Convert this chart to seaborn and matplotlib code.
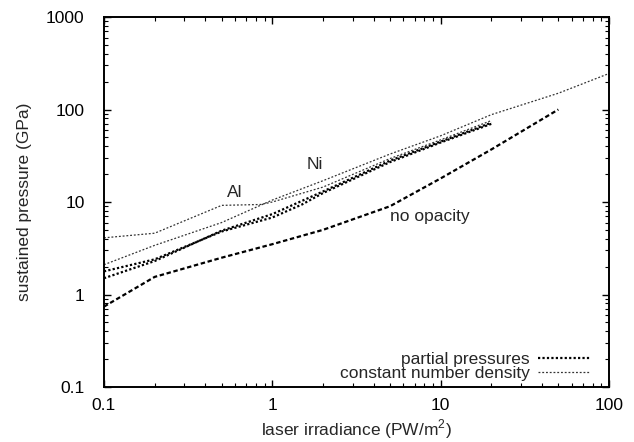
import matplotlib
matplotlib.use("Agg")
import matplotlib.pyplot as plt
from matplotlib.lines import Line2D
from matplotlib.ticker import LogLocator, FixedLocator, FixedFormatter, NullFormatter
import numpy as np
import pandas as pd
import seaborn as sns

# laser irradiance (PW/m^2) and sustained pressure (GPa)
al_pp_x = [0.1, 0.2, 0.5, 1.0, 2.0, 5.0, 10.0, 20.0]
al_pp_y = [1.5, 2.3, 4.9, 7.4, 13.0, 28.0, 45.0, 72.0]

ni_pp_x = [0.1, 0.2, 0.5, 1.0, 1.5, 2.0, 5.0, 10.0, 20.0]
ni_pp_y = [1.78, 2.4, 4.8, 6.8, 9.4, 12.5, 27.0, 44.0, 70.0]

al_cd_x = [0.1, 0.2, 0.5, 0.85, 1.0, 2.0, 5.0, 10.0, 20.0]
al_cd_y = [4.1, 4.6, 9.2, 9.4, 10.0, 14.5, 29.5, 47.0, 76.0]

ni_cd_x = [0.1, 0.2, 0.5, 1.0, 2.0, 5.0, 10.0, 20.0, 50.0, 100.0]
ni_cd_y = [2.1, 3.4, 6.0, 10.5, 17.0, 33.0, 52.0, 88.0, 150.0, 245.0]

noop_x = [0.1, 0.2, 0.5, 1.0, 2.0, 5.0, 10.0, 20.0, 50.0]
noop_y = [0.74, 1.55, 2.5, 3.5, 5.0, 9.0, 18.0, 37.0, 100.0]

x_ticks = [0.1, 1, 10, 100]
x_tick_labels = ["0.1", "1", "10", "100"]
y_ticks = [0.1, 1, 10, 100, 1000]
y_tick_labels = ["0.1", "1", "10", "100", "1000"]

FS = 12.5

sns.set_style("ticks")
plt.rcParams["font.family"] = ["Liberation Sans", "DejaVu Sans"]
plt.rcParams["mathtext.fontset"] = "custom"
plt.rcParams["mathtext.rm"] = "Liberation Sans"

fig = plt.figure(figsize=(6.34, 4.42), dpi=100)
ax = fig.add_axes([0.164, 0.1244, 0.7966, 0.8371])

pp_style = dict(color="black", lw=1.6, linestyle=(0, (1, 1)))
cd_style = dict(color="#333333", lw=0.9, linestyle=(0, (1.5, 1.5)))
noop_style = dict(color="black", lw=1.6, linestyle=(0, (2.0, 1.2)))

series = [
    (al_cd_x, al_cd_y, cd_style),
    (ni_cd_x, ni_cd_y, cd_style),
    (al_pp_x, al_pp_y, pp_style),
    (ni_pp_x, ni_pp_y, pp_style),
    (noop_x, noop_y, noop_style),
]
for xs, ys, st in series:
    df = pd.DataFrame({"irradiance": xs, "pressure": ys})
    sns.lineplot(data=df, x="irradiance", y="pressure", ax=ax, estimator=None,
                 sort=False, legend=False, **st)

ax.set_xscale("log")
ax.set_yscale("log")
ax.set_xlim(0.1, 100)
ax.set_ylim(0.1, 1000)

ax.xaxis.set_major_locator(FixedLocator(x_ticks))
ax.xaxis.set_major_formatter(FixedFormatter(x_tick_labels))
ax.yaxis.set_major_locator(FixedLocator(y_ticks))
ax.yaxis.set_major_formatter(FixedFormatter(y_tick_labels))
ax.xaxis.set_minor_locator(LogLocator(base=10, subs=np.arange(2, 10)))
ax.yaxis.set_minor_locator(LogLocator(base=10, subs=np.arange(2, 10)))
ax.xaxis.set_minor_formatter(NullFormatter())
ax.yaxis.set_minor_formatter(NullFormatter())

ax.tick_params(which="both", direction="in", top=True, right=True,
               labelsize=FS, colors="black")
ax.tick_params(which="major", length=5, width=1.0)
ax.tick_params(which="minor", length=3, width=0.8)
ax.tick_params(axis="x", which="major", pad=8)
ax.tick_params(axis="y", which="major", pad=14)
for sp in ax.spines.values():
    sp.set_linewidth(1.4)
    sp.set_color("black")

ax.set_xlabel("laser irradiance (PW/m$^2$)", fontsize=FS, labelpad=3)
ax.set_ylabel("sustained pressure (GPa)", fontsize=FS, labelpad=10)

ax.text(0.60, 12.7, "Al", fontsize=FS, ha="center", va="center")
ax.text(1.78, 25.4, "Ni", fontsize=FS, ha="center", va="center")
ax.text(5.0, 7.0, "no opacity", fontsize=FS, ha="left", va="center")

handles = [Line2D([], [], **pp_style), Line2D([], [], **cd_style)]
ax.legend(handles, ["partial pressures", "constant number density"],
          loc="lower right", bbox_to_anchor=(0.962, 0.015), frameon=False,
          markerfirst=False, fontsize=FS, handlelength=3.0,
          handletextpad=0.45, labelspacing=-0.05, borderpad=0.0,
          borderaxespad=0.0)

fig.savefig("out.png", dpi=100)
